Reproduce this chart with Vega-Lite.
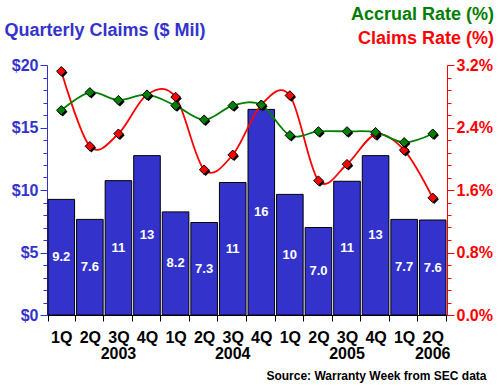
{
  "$schema": "https://vega.github.io/schema/vega-lite/v6.json",
  "autosize": "none",
  "width": 400,
  "height": 250,
  "padding": {"left": 47, "top": 65, "right": 53, "bottom": 70},
  "background": "white",
  "config": {"view": {"stroke": null}, "font": "Liberation Sans"},
  "title": {
    "text": "Accrual Rate (%)",
    "subtitle": "Claims Rate (%)",
    "anchor": "end",
    "frame": "group",
    "dx": 47,
    "font": "Liberation Sans",
    "fontSize": 18,
    "fontWeight": "bold",
    "color": "#008000",
    "subtitleFont": "Liberation Sans",
    "subtitleFontSize": 18,
    "subtitleFontWeight": "bold",
    "subtitleColor": "#FF0000",
    "subtitlePadding": 6,
    "offset": -27
  },
  "data": {"values": [
    {"q": "1Q 2003", "claims": 9.25, "label": "9.2", "accrual": 2.62, "rate": 3.12},
    {"q": "2Q 2003", "claims": 7.65, "label": "7.6", "accrual": 2.85, "rate": 2.16},
    {"q": "3Q 2003", "claims": 10.75, "label": "11", "accrual": 2.75, "rate": 2.32},
    {"q": "4Q 2003", "claims": 12.75, "label": "13", "accrual": 2.82, "rate": 2.82},
    {"q": "1Q 2004", "claims": 8.25, "label": "8.2", "accrual": 2.68, "rate": 2.79},
    {"q": "2Q 2004", "claims": 7.4, "label": "7.3", "accrual": 2.5, "rate": 1.86},
    {"q": "3Q 2004", "claims": 10.6, "label": "11", "accrual": 2.68, "rate": 2.05},
    {"q": "4Q 2004", "claims": 16.45, "label": "16", "accrual": 2.69, "rate": 2.69},
    {"q": "1Q 2005", "claims": 9.65, "label": "10", "accrual": 2.3, "rate": 2.81},
    {"q": "2Q 2005", "claims": 7.0, "label": "7.0", "accrual": 2.35, "rate": 1.72},
    {"q": "3Q 2005", "claims": 10.7, "label": "11", "accrual": 2.35, "rate": 1.93},
    {"q": "4Q 2005", "claims": 12.75, "label": "13", "accrual": 2.34, "rate": 2.31},
    {"q": "1Q 2006", "claims": 7.65, "label": "7.7", "accrual": 2.21, "rate": 2.11},
    {"q": "2Q 2006", "claims": 7.6, "label": "7.6", "accrual": 2.32, "rate": 1.5}
  ]},
  "layer": [
    {
      "mark": {"type": "bar", "color": "#3333CC", "stroke": "black", "strokeWidth": 1},
      "encoding": {
        "x": {"field": "q", "type": "ordinal", "sort": null,
          "scale": {"type": "band", "paddingInner": 0.07, "paddingOuter": 0.035},
          "axis": {"title": null, "orient": "bottom", "tickBand": "extent", "tickSize": 6, "tickColor": "black", "domainColor": "black",
            "labelExpr": "isValid(datum.value) ? split(datum.value, ' ')[0] : ''", "labelAngle": 0, "labelFontSize": 16, "labelFontWeight": "bold", "labelColor": "black", "labelPadding": 8}},
        "y": {"field": "claims", "type": "quantitative", "scale": {"domain": [0, 20], "nice": false},
          "axis": {"orient": "left", "values": [0,1,2,3,4,5,6,7,8,9,10,11,12,13,14,15,16,17,18,19,20],
            "labelExpr": "datum.value % 5 === 0 ? '$' + datum.value : ''",
            "tickSize": {"condition": {"test": "datum.value % 5 === 0", "value": 7}, "value": 4},
            "title": "Quarterly Claims ($ Mil)", "titleAngle": 0, "titleX": -43, "titleY": -30, "titleAlign": "left", "titleBaseline": "alphabetic",
            "titleFontSize": 18, "titleFontWeight": "bold", "titleColor": "#3333CC",
            "grid": false, "domainColor": "#3333CC", "tickColor": "#3333CC", "labelColor": "#3333CC",
            "labelFontSize": 16, "labelFontWeight": "bold", "labelPadding": 2}}
      }
    },
    {
      "mark": {"type": "text", "color": "white", "fontSize": 13, "fontWeight": "bold", "baseline": "middle"},
      "encoding": {
        "x": {"field": "q", "type": "ordinal", "sort": null,
          "axis": {"title": "Source: Warranty Week from SEC data", "orient": "bottom", "bandPosition": 0, "ticks": false, "domain": false,
            "labelExpr": "datum.value == '3Q 2003' ? '2003' : datum.value == '3Q 2004' ? '2004' : datum.value == '3Q 2005' ? '2005' : datum.value == '2Q 2006' ? '2006' : ''",
            "labelAngle": 0, "labelFontSize": 16, "labelFontWeight": "bold", "labelColor": "black", "labelPadding": 30,
            "titleX": 439, "titleY": 64, "titleAlign": "right", "titleBaseline": "alphabetic", "titleFontSize": 12, "titleFontWeight": "bold", "titleColor": "black"}},
        "y": {"field": "claims", "type": "quantitative", "scale": {"domain": [0, 40], "nice": false}, "axis": null},
        "text": {"field": "label", "type": "nominal"}
      }
    },
    {
      "mark": {"type": "line", "color": "#FF0000", "strokeWidth": 1.8, "interpolate": "cardinal"},
      "encoding": {
        "x": {"field": "q", "type": "ordinal", "sort": null, "axis": null},
        "y": {"field": "rate", "type": "quantitative", "scale": {"domain": [0, 3.2], "nice": false},
          "axis": {"orient": "right", "title": null, "grid": false,
            "values": [0,0.16,0.32,0.48,0.64,0.8,0.96,1.12,1.28,1.44,1.6,1.76,1.92,2.08,2.24,2.4,2.56,2.72,2.88,3.04,3.2],
            "labelExpr": "abs(datum.value/0.8 - round(datum.value/0.8)) < 0.01 ? format(datum.value, '.1f') + '%' : ''",
            "tickSize": {"condition": {"test": "abs(datum.value/0.8 - round(datum.value/0.8)) < 0.01", "value": 7}, "value": 4},
            "domainColor": "#FF0000", "tickColor": "#FF0000", "labelColor": "#FF0000",
            "labelFontSize": 16, "labelFontWeight": "bold", "labelPadding": 2}}
      }
    },
    {
      "mark": {"type": "line", "color": "#008000", "strokeWidth": 1.8, "interpolate": "cardinal"},
      "encoding": {
        "x": {"field": "q", "type": "ordinal", "sort": null, "axis": null},
        "y": {"field": "accrual", "type": "quantitative", "scale": {"domain": [0, 3.2], "nice": false}, "axis": null}
      }
    },
    {
      "mark": {"type": "point", "shape": "diamond", "filled": true, "color": "black", "size": 90, "opacity": 1, "xOffset": 1.5, "yOffset": 1.5},
      "encoding": {
        "x": {"field": "q", "type": "ordinal", "sort": null, "axis": null},
        "y": {"field": "rate", "type": "quantitative", "scale": {"domain": [0, 3.2], "nice": false}, "axis": null}
      }
    },
    {
      "mark": {"type": "point", "shape": "diamond", "filled": true, "color": "#FF0000", "stroke": "black", "strokeWidth": 1, "size": 90, "opacity": 1},
      "encoding": {
        "x": {"field": "q", "type": "ordinal", "sort": null, "axis": null},
        "y": {"field": "rate", "type": "quantitative", "scale": {"domain": [0, 3.2], "nice": false}, "axis": null}
      }
    },
    {
      "mark": {"type": "point", "shape": "diamond", "filled": true, "color": "black", "size": 90, "opacity": 1, "xOffset": 1.5, "yOffset": 1.5},
      "encoding": {
        "x": {"field": "q", "type": "ordinal", "sort": null, "axis": null},
        "y": {"field": "accrual", "type": "quantitative", "scale": {"domain": [0, 3.2], "nice": false}, "axis": null}
      }
    },
    {
      "mark": {"type": "point", "shape": "diamond", "filled": true, "color": "#008000", "stroke": "black", "strokeWidth": 1, "size": 90, "opacity": 1},
      "encoding": {
        "x": {"field": "q", "type": "ordinal", "sort": null, "axis": null},
        "y": {"field": "accrual", "type": "quantitative", "scale": {"domain": [0, 3.2], "nice": false}, "axis": null}
      }
    }
  ],
  "resolve": {"scale": {"y": "independent"}, "axis": {"x": "independent"}}
}
